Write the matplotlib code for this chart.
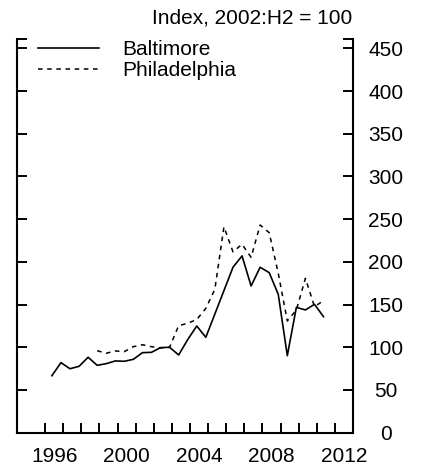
import numpy as np
import matplotlib
matplotlib.use("Agg")
import matplotlib.pyplot as plt

plt.rcParams['font.family'] = ['Liberation Sans', 'DejaVu Sans']

# semiannual data, 1996:H1 .. 2011:H1, index 2002:H2 = 100
years = [y for y in range(1996, 2012) for h in (1, 2)][:31]
halves = [h for y in range(1996, 2012) for h in (1, 2)][:31]

baltimore = [66.7, 82.0, 74.9, 77.7, 88.3, 78.9, 80.8, 84.0, 83.6, 85.9,
             93.7, 94.1, 99.6, 100.0, 91.0, 109.0, 124.9, 111.7, 139.0, 166.3,
             193.7, 207.0, 171.8, 193.7, 187.4, 162.0, 90.2, 146.8, 143.7, 150.3,
             135.8]
philadelphia = [np.nan] * 5 + [96.0, 93.0, 95.7, 94.9, 100.7, 103.0, 100.7, 99.2,
                               100.0, 125.3, 128.1, 132.5, 145.5, 168.0, 241.0, 211.8,
                               220.6, 205.4, 243.2, 234.2, 186.6, 130.8, 143.7, 180.8,
                               147.6, 154.6]

year_labels = [1996, 2000, 2004, 2008, 2012]
y_ticks = [0, 50, 100, 150, 200, 250, 300, 350, 400, 450]

# position each half-year within its year
x = np.array(years) + (np.array(halves) - 1) * 0.5 + 0.375

fig = plt.figure(figsize=(4.21, 4.72), dpi=100)
ax = fig.add_axes([0.0404, 0.0833, 0.798, 0.8341])

ax.plot(x, baltimore, color='black', lw=1.2, label='Baltimore')
ax.plot(x, philadelphia, color='black', lw=1.1, dashes=(3, 3), label='Philadelphia')

ax.set_xlim(1994.45, 2013.0)
ax.set_ylim(0, 461)

ax.spines['top'].set_visible(False)
for s in ('left', 'right', 'bottom'):
    ax.spines[s].set_linewidth(1.5)

# x axis: year ticks, labels centred in the year
ax.set_xticks(np.arange(1996, 2013))
ax.set_xticklabels([])
ax.set_xticks([y + 0.5 for y in year_labels], minor=True)
ax.set_xticklabels([str(y) for y in year_labels], minor=True, fontsize=15)
ax.tick_params(axis='x', which='major', direction='in', length=7, width=1.4)
ax.tick_params(axis='x', which='minor', length=0, pad=10.5)

# y axis: ticks on both sides, labels on the right
ax.set_yticks(y_ticks + [461])
ax.set_yticklabels([str(v) for v in y_ticks] + [''], fontsize=15)
ax.tick_params(axis='y', direction='in', length=7, width=1.4,
               left=True, right=True, labelleft=False, labelright=True, pad=23.5)
for t in ax.yaxis.get_major_ticks():
    t.label2.set_horizontalalignment('center')

ax.legend(loc='upper left', bbox_to_anchor=(0.063, 0.997), frameon=False,
          fontsize=15, handlelength=2.94, handletextpad=1.1, labelspacing=0.1,
          borderaxespad=0, borderpad=0)

fig.text(352 / 421, 0.9506, 'Index, 2002:H2 = 100', ha='right', va='baseline',
         fontsize=15)

fig.savefig('out.png', dpi=100)
